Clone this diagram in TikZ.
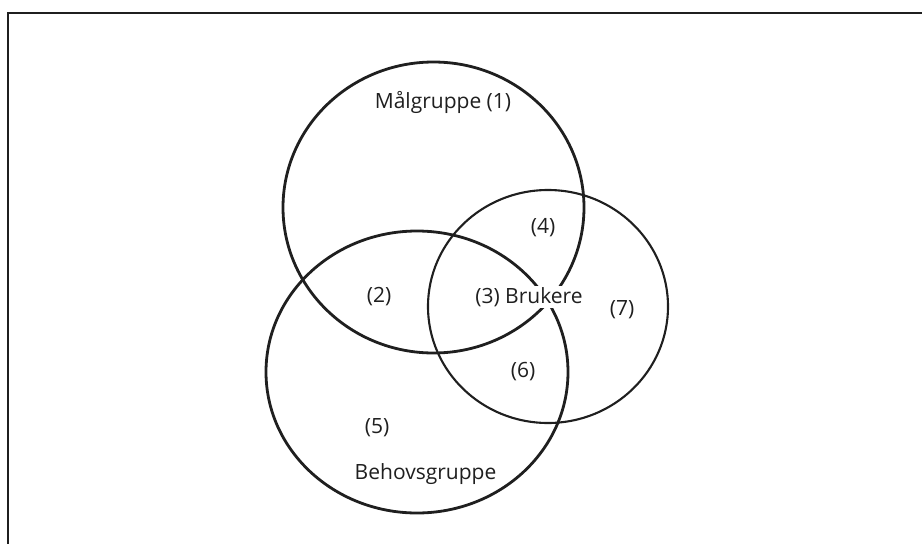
\documentclass[tikz,border=0pt]{standalone}
\usepackage{fontspec}
\setmainfont{Open Sans}
\begin{document}
\begin{tikzpicture}[x=1pt,y=-1pt,
  ink/.style={draw=black!88},
  bigset/.style={ink, line width=2.8pt},
  smallset/.style={ink, line width=2.1pt},
  lbl/.style={fill=white, inner sep=1pt, text=black!88, font=\fontsize{21}{25}\selectfont}]
\useasboundingbox (0,0) rectangle (922,544);
\coordinate (ftr) at (922,13);
\coordinate (ftl) at (8,13);
\coordinate (fbl) at (8,544);
\draw[ink, line width=2.2pt] (ftr) -- (ftl) -- (fbl);
\draw[bigset] (433.5,207.5) ellipse [x radius=150.5, y radius=145.5];
\draw[bigset] (417,372) ellipse [x radius=151, y radius=141];
\draw[smallset] (548,306.5) ellipse [x radius=120, y radius=116.5];
\node[lbl] (m1) at (443,102) {Målgruppe (1)};
\node[lbl] (n4) at (543,228) {(4)};
\node[lbl] (n3) at (529,297) {(3) Brukere};
\node[lbl] (n2) at (379,297) {(2)};
\node[lbl] (n7) at (622,310) {(7)};
\node[lbl] (n6) at (523,372) {(6)};
\node[lbl] (n5) at (377,428) {(5)};
\node[lbl] (bg) at (425.5,474) {Behovsgruppe};
\end{tikzpicture}
\end{document}
